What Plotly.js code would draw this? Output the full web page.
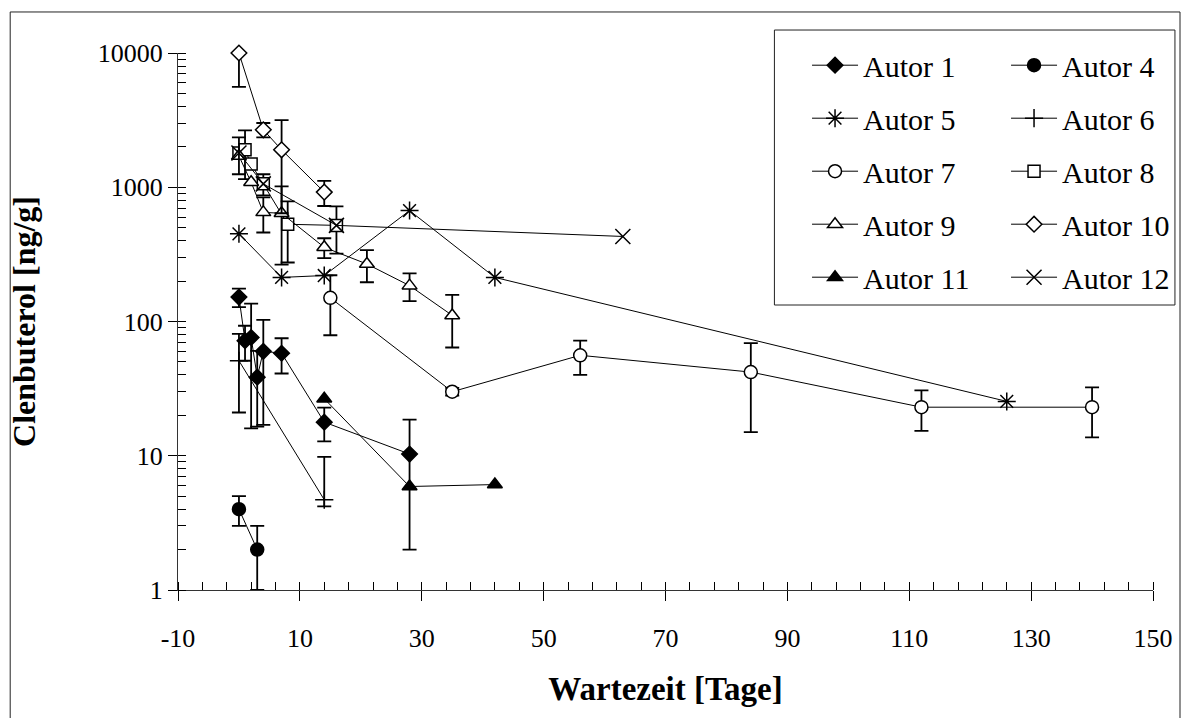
<!DOCTYPE html>
<html>
<head>
<meta charset="utf-8">
<script src="https://cdn.plot.ly/plotly-3.0.1.min.js"></script>
<style>html,body{margin:0;padding:0;background:#fff}#chart{width:1186px;height:718px}</style>
</head>
<body>
<div id="chart"></div>
<script>
// ---- data ----
const a1_x = [0, 1, 2, 3, 4, 7, 14, 28];
const a1_y = [152, 72, 76, 38.5, 60, 58, 17.8, 10.3];
const a1_e = [24, 21, 60, 22, 43, 17, 5, 8.3];

const a4_x = [0, 3];
const a4_y = [4, 2];
const a4_e = [1, 1];

const a5_x = [0, 7, 14, 28, 42, 126];
const a5_y = [450, 213, 220, 670, 213, 25.4];

const a6_x = [0, 14];
const a6_y = [51, 4.7];
const a6_eplus = [30, 5.1];
const a6_eminus = [30, 0.5];

const a7_x = [15, 35, 56, 84, 112, 140];
const a7_y = [150, 30, 56, 42, 23, 23];
const a7_e = [71, 2, 16, 27, 7.7, 9.3];

const a8_x = [0, 1, 2, 4, 8, 16];
const a8_y = [1800, 1900, 1490, 1060, 530, 520];
const a8_e = [NaN, 750, NaN, 190, 255, 200];

const a9_x = [0, 2, 4, 7, 14, 21, 28, 35];
const a9_y = [1710, 1090, 650, 640, 357, 268, 185, 111];
const a9_e = [NaN, NaN, 190, 375, 60, 72, 43, 47];

const a10_x = [0, 4, 7, 14];
const a10_y = [10000, 2680, 1900, 920];
const a10_e = [4400, 330, 1260, 195];

const a11_x = [14, 28, 42];
const a11_y = [26.6, 5.9, 6.1];

const a12_x = [0, 4, 16, 63];
const a12_y = [1800, 1060, 520, 430];
const a12_e = [550, NaN, NaN, NaN];

const xTickVals = [-10, 10, 30, 50, 70, 90, 110, 130, 150];
const xTickText = ['-10', '10', '30', '50', '70', '90', '110', '130', '150'];
const yTickVals = [1, 10, 100, 1000, 10000];
const yTickText = ['1', '10', '100', '1000', '10000'];

const xTitle = 'Wartezeit [Tage]';
const yTitle = 'Clenbuterol [ng/g]';

// ---- styling ----
const FONT = '"Liberation Serif", "Times New Roman", serif';
const BLACK = '#000';
function errBars(arr) {
  return {type: 'data', array: arr, visible: true, color: BLACK, thickness: 1.8, width: 7};
}
function mk(name, x, y, symbol, fill, size, legend, err, extra) {
  const t = {
    type: 'scatter', mode: 'lines+markers', name: name, x: x, y: y,
    legend: legend, legendgroup: name,
    line: {color: BLACK, width: 1},
    marker: {symbol: symbol, size: size, color: fill, line: {color: BLACK, width: 1.5}}
  };
  if (err) t.error_y = err;
  return Object.assign(t, extra || {});
}

const traces = [
  mk('Autor 1', a1_x, a1_y, 'diamond', BLACK, 12, 'legend', errBars(a1_e)),
  mk('Autor 4', a4_x, a4_y, 'circle', BLACK, 13, 'legend2', errBars(a4_e)),
  mk('Autor 5', a5_x, a5_y, 'asterisk-open', BLACK, 15, 'legend', null),
  mk('Autor 6', a6_x, a6_y, 'cross-thin-open', BLACK, 13, 'legend2',
     {type: 'data', symmetric: false, array: a6_eplus, arrayminus: a6_eminus, visible: true, color: BLACK, thickness: 1.8, width: 7}),
  mk('Autor 7', a7_x, a7_y, 'circle', '#fff', 13, 'legend', errBars(a7_e)),
  mk('Autor 8', a8_x, a8_y, 'square', '#fff', 12, 'legend2', errBars(a8_e)),
  mk('Autor 9', a9_x, a9_y, 'triangle-up', '#fff', 13, 'legend', errBars(a9_e)),
  mk('Autor 10', a10_x, a10_y, 'diamond', '#fff', 12, 'legend2', errBars(a10_e), {cliponaxis: false}),
  mk('Autor 11', a11_x, a11_y, 'triangle-up', BLACK, 13, 'legend', null),
  mk('Autor 12', a12_x, a12_y, 'x-thin-open', BLACK, 15, 'legend2', errBars(a12_e))
];

const legendCommon = {
  font: {family: FONT, size: 30, color: BLACK},
  bgcolor: 'rgba(0,0,0,0)', borderwidth: 0,
  traceorder: 'grouped', tracegroupgap: 11,
  xanchor: 'left', yanchor: 'top', itemwidth: 46
};

const layout = {
  width: 1186, height: 718,
  paper_bgcolor: '#fff', plot_bgcolor: '#fff',
  margin: {l: 178, r: 32, t: 53, b: 128},
  showlegend: true,
  font: {family: FONT, color: BLACK},
  xaxis: {
    range: [-10, 150], tickmode: 'array', tickvals: xTickVals, ticktext: xTickText,
    ticks: 'outside', ticklen: 10, tickwidth: 1, tickcolor: BLACK,
    ticklabelstandoff: 15,
    showline: true, linecolor: '#333', linewidth: 1,
    showgrid: false, zeroline: false,
    tickfont: {family: FONT, size: 26, color: BLACK},
    minor: {ticks: 'inside', ticklen: 8, tick0: -10, dtick: 4, tickcolor: BLACK, tickwidth: 1, showgrid: false},
    title: {text: xTitle, font: {family: FONT, size: 33, color: BLACK, weight: 'bold'}, standoff: 24}
  },
  xaxis2: {
    overlaying: 'x', anchor: 'y', side: 'bottom',
    range: [-10, 150], tickmode: 'array', tickvals: xTickVals,
    ticks: 'inside', ticklen: 10, tickwidth: 1, tickcolor: BLACK,
    showticklabels: false, showline: false, showgrid: false, zeroline: false
  },
  yaxis: {
    type: 'log', range: [0, 4],
    tickmode: 'array', tickvals: yTickVals, ticktext: yTickText,
    ticks: 'outside', ticklen: 9, tickwidth: 1, tickcolor: BLACK,
    showline: true, linecolor: '#333', linewidth: 1,
    showgrid: false, zeroline: false,
    tickfont: {family: FONT, size: 26, color: BLACK},
    minor: {ticks: 'inside', ticklen: 8, dtick: 'D1', tickcolor: BLACK, tickwidth: 1, showgrid: false},
    title: {text: yTitle, font: {family: FONT, size: 32, color: BLACK, weight: 'bold'}, standoff: 52}
  },
  yaxis2: {
    overlaying: 'y', anchor: 'x', side: 'left', type: 'log', range: [0, 4],
    tickmode: 'array', tickvals: yTickVals,
    ticks: 'inside', ticklen: 9, tickwidth: 1, tickcolor: BLACK,
    showticklabels: false, showline: false, showgrid: false, zeroline: false
  },
  legend: Object.assign({}, legendCommon, {x: 0.6445, y: 1.0257}),
  legend2: Object.assign({}, legendCommon, {x: 0.8484, y: 1.0257}),
  shapes: [
    {type: 'rect', xref: 'paper', yref: 'paper', x0: -0.1721, x1: 1.0277, y0: -0.27, y1: 1.0764,
     line: {color: '#222', width: 1}, fillcolor: 'rgba(0,0,0,0)', layer: 'below'},
    {type: 'rect', xref: 'paper', yref: 'paper', x0: 0.6117, x1: 1.0225, y0: 0.5307, y1: 1.0428,
     line: {color: '#222', width: 1}, fillcolor: '#fff', layer: 'above'}
  ]
};

Plotly.newPlot('chart', traces, layout, {staticPlot: true, displayModeBar: false});
</script>
</body>
</html>
